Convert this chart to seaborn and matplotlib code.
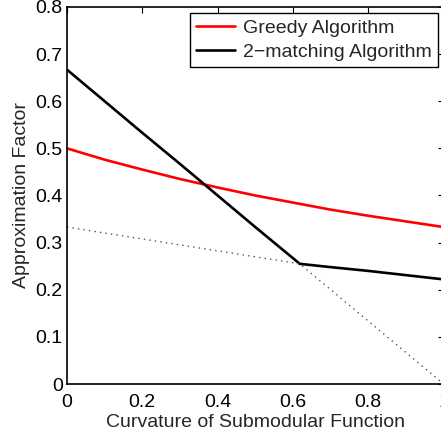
import numpy as np
import pandas as pd
import matplotlib
matplotlib.use("Agg")
import matplotlib.pyplot as plt
import seaborn as sns

# Data
greedy_x = [0.0, 0.1, 0.2, 0.3, 0.4, 0.5, 0.6, 0.7, 0.8, 0.9, 1.0]
greedy_y = [0.500, 0.476, 0.455, 0.435, 0.417, 0.400, 0.385, 0.370, 0.357, 0.345, 0.333]

match_x = [0.0, 0.1, 0.2, 0.3, 0.4, 0.5, 0.6, 0.618, 0.7, 0.8, 0.9, 1.0]
match_y = [0.667, 0.600, 0.533, 0.467, 0.400, 0.333, 0.267, 0.255, 0.248, 0.240, 0.231, 0.222]

bound_x = [0.0, 0.618, 1.0]
bound_y = [0.333, 0.255, 0.0]

x_ticks = [0, 0.2, 0.4, 0.6, 0.8, 1.0]
x_tick_labels = ["0", "0.2", "0.4", "0.6", "0.8", "1"]
y_ticks = [0, 0.1, 0.2, 0.3, 0.4, 0.5, 0.6, 0.7, 0.8]
y_tick_labels = ["0", "0.1", "0.2", "0.3", "0.4", "0.5", "0.6", "0.7", "0.8"]

sns.set_style("white")
plt.rcParams["font.family"] = ["Liberation Sans", "DejaVu Sans"]

FS = 14

fig = plt.figure(figsize=(4.41, 4.34), dpi=100)
ax = fig.add_axes([0.1519, 0.1152, 0.854, 0.8687])

df_g = pd.DataFrame({"x": greedy_x, "y": greedy_y})
df_m = pd.DataFrame({"x": match_x, "y": match_y})
df_b = pd.DataFrame({"x": bound_x, "y": bound_y})

sns.lineplot(data=df_g, x="x", y="y", ax=ax, color="#ff0000", lw=1.9, label="Greedy Algorithm")
sns.lineplot(data=df_m, x="x", y="y", ax=ax, color="black", lw=1.9, label="2\u2212matching Algorithm")
sns.lineplot(data=df_b, x="x", y="y", ax=ax, color="#555555", lw=1.0, linestyle=(0, (1, 3)), legend=False)

ax.set_xlim(0, 1)
ax.set_ylim(0, 0.8)
ax.set_xticks(x_ticks)
ax.set_xticklabels(x_tick_labels)
ax.set_yticks(y_ticks)
ax.set_yticklabels(y_tick_labels)
ax.tick_params(direction="in", length=4, width=0.8, top=True, right=True,
               labelsize=FS, colors="black")
ax.tick_params(axis="x", pad=7)
ax.tick_params(axis="y", pad=3)
for s in ax.spines.values():
    s.set_color("black")
    s.set_linewidth(1.2)

ax.set_xlabel("Curvature of Submodular Function", fontsize=FS, labelpad=2)
ax.set_ylabel("Approximation Factor", fontsize=FS, labelpad=4)

leg = ax.legend(loc="upper right", fontsize=FS, frameon=True, fancybox=False,
                edgecolor="black", framealpha=1, handlelength=2.0,
                borderpad=0.3, labelspacing=0.35, handletextpad=0.4,
                borderaxespad=0, bbox_to_anchor=(0.984, 0.983))
leg.get_frame().set_linewidth(1.0)

fig.savefig("out.png", dpi=100)
